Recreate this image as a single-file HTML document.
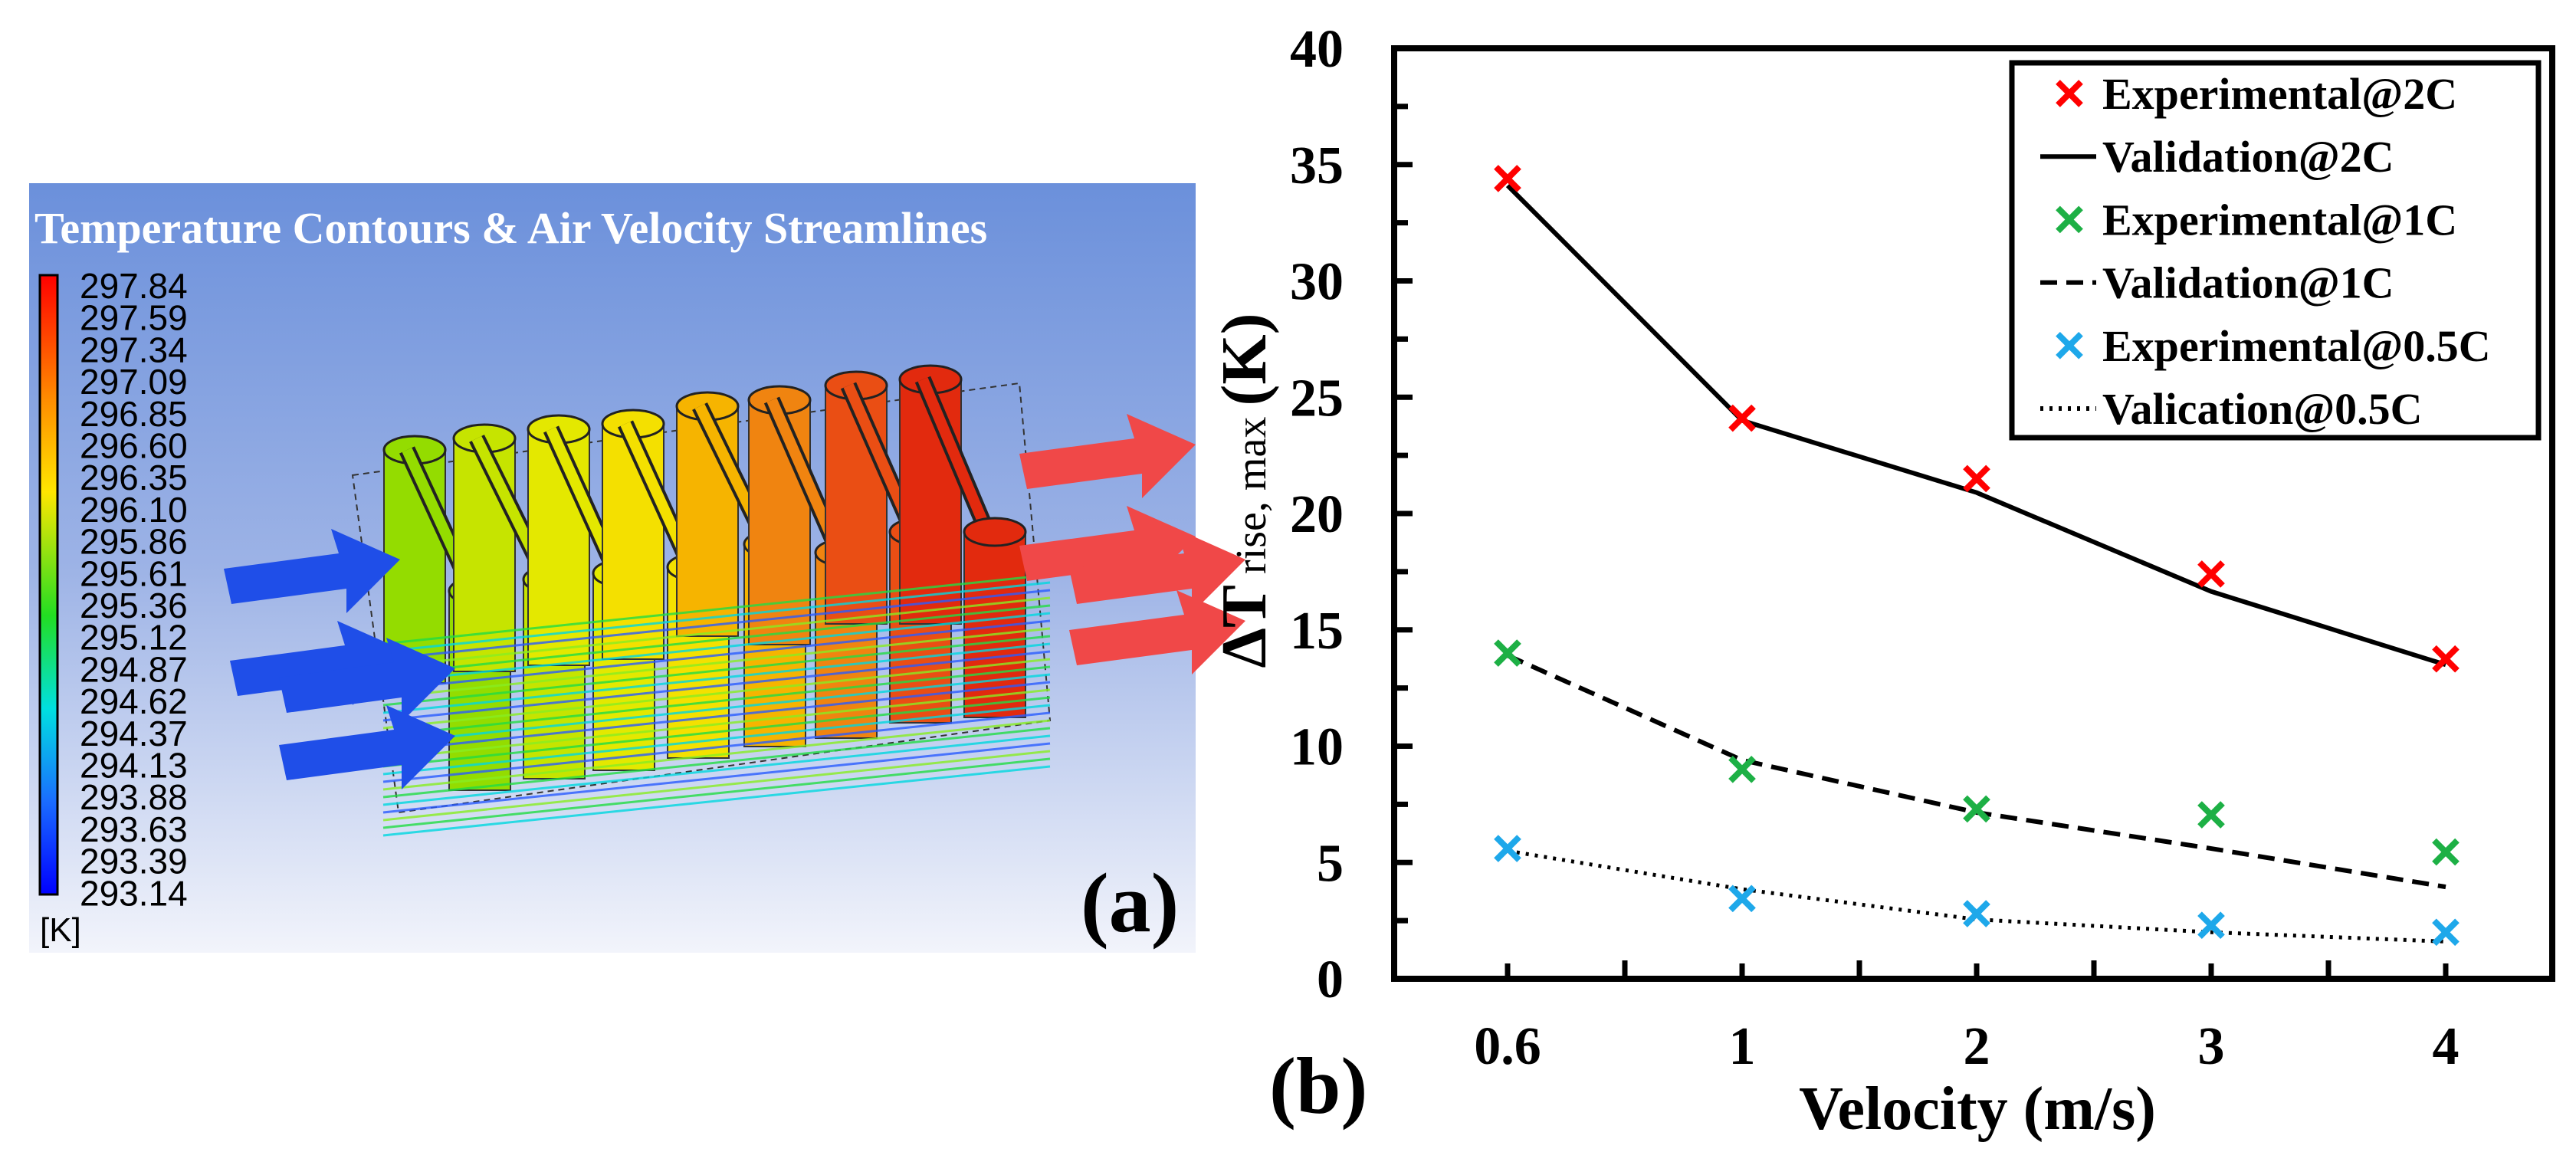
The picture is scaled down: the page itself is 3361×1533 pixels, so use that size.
<!DOCTYPE html>
<html><head><meta charset="utf-8"><style>
html,body{margin:0;padding:0;background:#fff;}
svg{display:block;}
</style></head><body>
<svg id="fig" width="3361" height="1533" viewBox="0 0 3361 1533" xmlns="http://www.w3.org/2000/svg">
<defs>
<linearGradient id="bg" x1="0" y1="0" x2="0" y2="1">
<stop offset="0" stop-color="#6b90db"/><stop offset="0.5" stop-color="#9db3e6"/><stop offset="1" stop-color="#f2f4fb"/>
</linearGradient>
<linearGradient id="cbar" x1="0" y1="0" x2="0" y2="1">
<stop offset="0" stop-color="#ff0000"/><stop offset="0.2" stop-color="#ff8c00"/><stop offset="0.35" stop-color="#ffe600"/><stop offset="0.55" stop-color="#22dd22"/><stop offset="0.7" stop-color="#00e0e0"/><stop offset="0.85" stop-color="#1a6cff"/><stop offset="1" stop-color="#0000ff"/>
</linearGradient>
</defs>
<g id="panel-a">
<rect x="38" y="239" width="1522" height="1004" fill="url(#bg)"/>
<text x="45" y="317" font-family="Liberation Serif, serif" font-weight="bold" font-size="58" fill="#fff">Temperature Contours &amp; Air Velocity Streamlines</text>
<rect x="52" y="359" width="23" height="808" fill="url(#cbar)" stroke="#000" stroke-width="3"/>
<g id="cbl" font-family="Liberation Sans, sans-serif" font-size="46" fill="#000"></g>
<text x="52" y="1228" font-family="Liberation Sans, sans-serif" font-size="44" fill="#000">[K]</text>
<g id="model"></g>
<text x="1410" y="1215" font-family="Liberation Serif, serif" font-weight="bold" font-size="110" fill="#000">(a)</text>
</g>
<g id="chart"></g>
<text x="1656" y="1452" font-family="Liberation Serif, serif" font-weight="bold" font-size="105" fill="#000">(b)</text>
</svg>
<script>
const categories = ['0.6','1','2','3','4'];
const yTicks = [0,5,10,15,20,25,30,35,40];
const exp2C = [34.4,24.1,21.5,17.4,13.75];
const val2C = [34.1,24.0,20.9,16.65,13.5];
const exp1C = [14.0,9.0,7.3,7.05,5.45];
const val1C = [13.9,9.4,7.15,5.6,3.95];
const exp05C = [5.6,3.45,2.8,2.3,2.0];
const val05C = [5.5,3.85,2.55,2.0,1.6];
const cbLabels = ['297.84','297.59','297.34','297.09','296.85','296.60','296.35','296.10','295.86','295.61','295.36','295.12','294.87','294.62','294.37','294.13','293.88','293.63','293.39','293.14'];

const NS='http://www.w3.org/2000/svg';
function mk(tag,attrs,parent){const e=document.createElementNS(NS,tag);for(const k in attrs)e.setAttribute(k,attrs[k]);parent.appendChild(e);return e;}

// colorbar labels
const cbl=document.getElementById('cbl');
cbLabels.forEach((t,i)=>{const e=mk('text',{x:104,y:389+i*41.7},cbl);e.textContent=t;

});

// model
const model=document.getElementById('model');
const colors=['#94dc00','#c6e400','#e4e800','#f4e000','#f6b400','#f08410','#ea4e14','#e22a0e'];
const backX=[541,632,729,826,923,1017,1117,1214], backTop=[587,572,560,553,530,522,503,495];
const frontX=[626,723,814,911,1011,1104,1201,1298], frontTop=[771,756,748,740,710,721,694,694], frontBot=[1031,1016,1005,989,974,963,943,936];
mk('polygon',{points:'460,620 1330,500 1370,940 520,1060',fill:'none',stroke:'#333','stroke-width':2,'stroke-dasharray':'8,6'},model);
for(let i=0;i<8;i++){
 const g=mk('g',{},model);
 
 
 const c=colors[i];
 mk('rect',{x:backX[i]-40,y:backTop[i],width:80,height:frontTop[i]-backTop[i]+120,fill:c,stroke:'#333','stroke-width':2},g);
 mk('ellipse',{cx:backX[i],cy:backTop[i],rx:40,ry:18,fill:c,stroke:'#222','stroke-width':3},g);
 mk('line',{x1:backX[i]-10,y1:backTop[i],x2:frontX[i]-10,y2:frontTop[i],stroke:'#222','stroke-width':22},g);
 mk('line',{x1:backX[i]-10,y1:backTop[i],x2:frontX[i]-10,y2:frontTop[i],stroke:c,'stroke-width':14},g);
 mk('rect',{x:frontX[i]-40,y:frontTop[i],width:80,height:frontBot[i]-frontTop[i],fill:c,stroke:'#333','stroke-width':2},g);
 mk('ellipse',{cx:frontX[i],cy:frontTop[i],rx:40,ry:18,fill:c,stroke:'#222','stroke-width':3},g);
}
const st=mk('g',{},model);


const sc=['#22dd44','#00d8e0','#2a5cff','#88ee22'];
for(let k=0;k<26;k++){const y=780+k*10;mk('line',{x1:500,y1:y+60,x2:1370,y2:y-30,stroke:sc[k%4],'stroke-width':3,opacity:0.8},st);}
function arrow(x,y,col,name){const g=mk('polygon',{points:`${x},${y+12} ${x+150},${y-8} ${x+140},${y-40} ${x+230},${y} ${x+160},${y+70} ${x+160},${y+38} ${x+10},${y+58}`,fill:col},model);

}
arrow(292,730,'#1f4ee8','inlet-arrow');arrow(300,850,'#1f4ee8','inlet-arrow');arrow(364,872,'#1f4ee8','inlet-arrow');arrow(364,960,'#1f4ee8','inlet-arrow');
arrow(1330,580,'#f04848','outlet-arrow');arrow(1330,700,'#f04848','outlet-arrow');arrow(1395,730,'#f04848','outlet-arrow');arrow(1395,810,'#f04848','outlet-arrow');

// chart
const chart=document.getElementById('chart');
const L=1819,R=3330,T=63,B=1277,X0=1967,DX=306;
const xs=i=>X0+i*DX, ys=v=>B-(v/40)*(B-T);
const serif='Liberation Serif, serif';
const ax=mk('rect',{x:L,y:T,width:R-L,height:B-T,fill:'none',stroke:'#000','stroke-width':8},chart);


yTicks.forEach((v,i)=>{
 const y=ys(v);
 if(i>0&&i<yTicks.length-1){mk('line',{x1:L,y1:y,x2:L+24,y2:y,stroke:'#000','stroke-width':7},chart);}
 if(i<yTicks.length-1){const ym=ys(v+2.5);mk('line',{x1:L,y1:ym,x2:L+18,y2:ym,stroke:'#000','stroke-width':7},chart);}
 const t=mk('text',{x:1753,y:y+24,'text-anchor':'end','font-family':serif,'font-weight':'bold','font-size':70},chart);
 t.textContent=v;
 
 
});
categories.forEach((c,i)=>{
 const x=xs(i);
 mk('line',{x1:x,y1:B,x2:x,y2:B-20,stroke:'#000','stroke-width':7},chart);
 if(i<categories.length-1){mk('line',{x1:x+DX/2,y1:B,x2:x+DX/2,y2:B-24,stroke:'#000','stroke-width':7},chart);}
 const t=mk('text',{x:x,y:1388,'text-anchor':'middle','font-family':serif,'font-weight':'bold','font-size':70},chart);
 t.textContent=c;
 
 
});
const xt=mk('text',{x:2580,y:1473,'text-anchor':'middle','font-family':serif,'font-weight':'bold','font-size':80},chart);
xt.textContent='Velocity (m/s)';


const yt=mk('text',{x:0,y:0,transform:'translate(1651,640) rotate(-90)','text-anchor':'middle','font-family':serif,'font-weight':'bold','font-size':84},chart);
yt.innerHTML='ΔT<tspan font-weight="normal" font-size="56"> rise, max </tspan>(K)';



function line(vals,dash,w,name){const p=mk('polyline',{points:vals.map((v,i)=>xs(i)+','+ys(v)).join(' '),fill:'none',stroke:'#000','stroke-width':w,'stroke-dasharray':dash},chart);

}
function cross(x,y,col){const g=mk('g',{stroke:col,'stroke-width':8},chart);mk('line',{x1:x-15,y1:y-15,x2:x+15,y2:y+15},g);mk('line',{x1:x-15,y1:y+15,x2:x+15,y2:y-15},g);return g;}
function markers(vals,col,name){vals.forEach((v,i)=>{const g=cross(xs(i),ys(v),col);

});}
line(val2C,'none',6,'validation-2c-line');
line(val1C,'22,12',6,'validation-1c-line');
line(val05C,'4,8',5,'validation-05c-line');
markers(exp2C,'#ff0000','experimental-2c-point');
markers(exp1C,'#1db045','experimental-1c-point');
markers(exp05C,'#1ea8ea','experimental-05c-point');

// legend
const lg=mk('g',{},chart);


mk('rect',{x:2625,y:82,width:687,height:489,fill:'#fff',stroke:'#000','stroke-width':7},lg);
const entries=[['Experimental@2C','x','#ff0000'],['Validation@2C','l','none'],['Experimental@1C','x','#1db045'],['Validation@1C','l','22,12'],['Experimental@0.5C','x','#1ea8ea'],['Valication@0.5C','l','4,8']];
entries.forEach((e,i)=>{
 const y=122+i*82.2;
 const g=mk('g',{},lg);
 
 
 if(e[1]==='x'){g.appendChild(cross(2700,y,e[2]));}
 else mk('line',{x1:2662,y1:y,x2:2735,y2:y,stroke:'#000','stroke-width':6,'stroke-dasharray':e[2]},g);
 const t=mk('text',{x:2743,y:y+20,'font-family':serif,'font-weight':'bold','font-size':58},g);
 t.textContent=e[0];
});
</script>
</body></html>
